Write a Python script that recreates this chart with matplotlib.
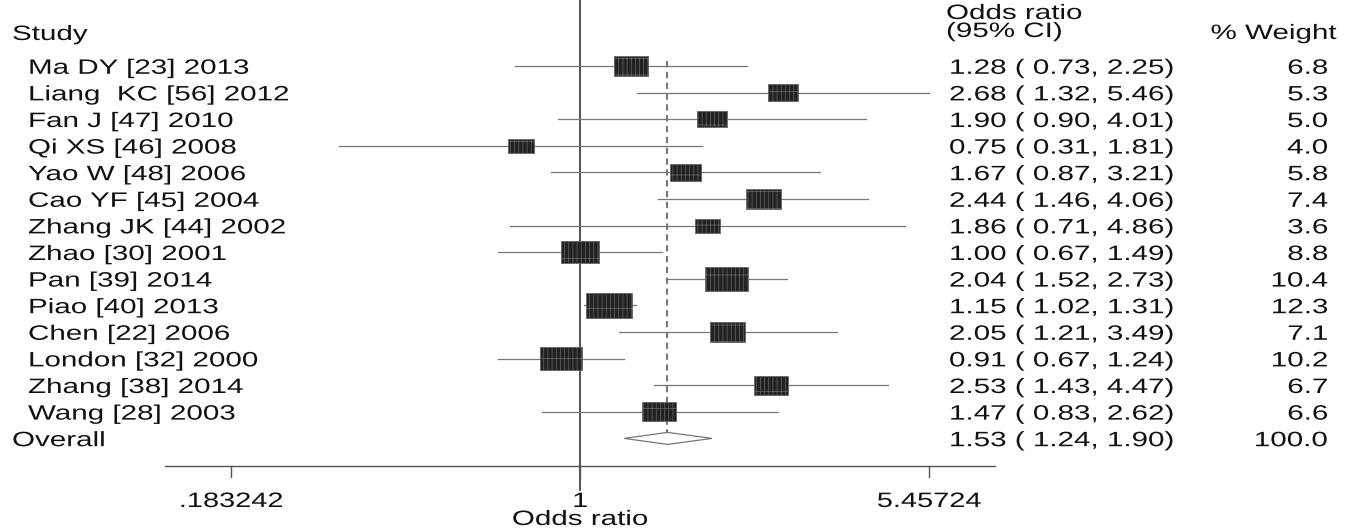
import numpy as np
import matplotlib
matplotlib.use("Agg")
import matplotlib.pyplot as plt
from matplotlib import patheffects
from matplotlib.patches import Rectangle, Polygon
from matplotlib.transforms import Affine2D

studies = ["Ma DY [23] 2013", "Liang  KC [56] 2012", "Fan J [47] 2010",
           "Qi XS [46] 2008", "Yao W [48] 2006", "Cao YF [45] 2004",
           "Zhang JK [44] 2002", "Zhao [30] 2001", "Pan [39] 2014",
           "Piao [40] 2013", "Chen [22] 2006", "London [32] 2000",
           "Zhang [38] 2014", "Wang [28] 2003"]
or_est = [1.28, 2.68, 1.90, 0.75, 1.67, 2.44, 1.86, 1.00, 2.04, 1.15, 2.05, 0.91, 2.53, 1.47]
ci_lo = [0.73, 1.32, 0.90, 0.31, 0.87, 1.46, 0.71, 0.67, 1.52, 1.02, 1.21, 0.67, 1.43, 0.83]
ci_hi = [2.25, 5.46, 4.01, 1.81, 3.21, 4.06, 4.86, 1.49, 2.73, 1.31, 3.49, 1.24, 4.47, 2.62]
weights = [6.8, 5.3, 5.0, 4.0, 5.8, 7.4, 3.6, 8.8, 10.4, 12.3, 7.1, 10.2, 6.7, 6.6]
overall_est, overall_lo, overall_hi, overall_w = 1.53, 1.24, 1.90, 100.0
tick_vals = [0.183242, 1, 5.45724]
tick_labels = [".183242", "1", "5.45724"]

W, H = 1353, 529
S = 205.7          # pixels per ln unit
X1 = 580           # pixel of OR = 1
FS = 15            # font size (pt)
SX = 1.42          # horizontal text stretch, the source image is stretched
TXT = "#111111"

plt.rcParams['font.family'] = ['Liberation Sans', 'DejaVu Sans']
plt.rcParams['hatch.linewidth'] = 0.5


class Stretch(patheffects.AbstractPathEffect):
    def __init__(self, sx, pivot="left"):
        super().__init__()
        self.sx = sx
        self.pivot = pivot

    def draw_path(self, renderer, gc, tpath, affine, rgbFace=None):
        v = tpath.vertices
        x0 = 0.0
        if len(v):
            if self.pivot == "right":
                x0 = v[:, 0].max()
            elif self.pivot == "center":
                x0 = (v[:, 0].min() + v[:, 0].max()) / 2
        t = Affine2D().translate(-x0, 0).scale(self.sx, 1).translate(x0, 0) + affine
        renderer.draw_path(gc, tpath, t, rgbFace)


def put(axis, x, y, s, ha="left", sx=SX):
    axis.text(x, y, s, ha=ha, va="baseline", fontsize=FS, color=TXT,
              path_effects=[Stretch(sx, ha)])


fig = plt.figure(figsize=(W / 100, H / 100), dpi=100)
ax = fig.add_axes([0, 0, 1, 1])
ax.set_xscale("log")
ax.set_xlim(np.exp(-X1 / S), np.exp((W - X1) / S))
ax.set_ylim(H, 0)
ax.axis("off")

tx = fig.add_axes([0, 0, 1, 1])
tx.set_xlim(0, W)
tx.set_ylim(H, 0)
tx.patch.set_facecolor("none")
tx.axis("off")

n = len(studies)
rows = 66 + 26.6 * np.arange(n)
y_over = 66 + 26.6 * n
base = 7.8

# null line and overall dashed line
ax.plot([1, 1], [0, 490], color="#333333", lw=1.2, zorder=1)
ax.plot([overall_est, overall_est], [61, y_over + 6], color="#777777", lw=1.5,
        ls=(0, (3, 2.2)), zorder=1)

# studies
for i in range(n):
    y = rows[i]
    ax.plot([ci_lo[i], ci_hi[i]], [y, y], color="#777777", lw=0.9, zorder=2)
    h = 7.3 * np.sqrt(weights[i])
    hw = 1.8 * h / 2 / S
    x0 = or_est[i] * np.exp(-hw)
    x1 = or_est[i] * np.exp(hw)
    ax.add_patch(Rectangle((x0, y - h / 2), x1 - x0, h, facecolor="#222222",
                           edgecolor="#666666", lw=0.6, hatch="|||+", zorder=3))
    put(tx, 28, y + base, studies[i])
    put(tx, 949, y + base, "%.2f ( %.2f, %.2f)" % (or_est[i], ci_lo[i], ci_hi[i]))
    put(tx, 1328, y + base, "%.1f" % weights[i], ha="right")

# overall diamond
ax.add_patch(Polygon([(overall_lo, y_over), (overall_est, y_over - 6),
                      (overall_hi, y_over), (overall_est, y_over + 6)],
                     closed=True, facecolor="white", edgecolor="#777777",
                     lw=0.9, zorder=3))
put(tx, 12, y_over + base, "Overall")
put(tx, 949, y_over + base, "%.2f ( %.2f, %.2f)" % (overall_est, overall_lo, overall_hi))
put(tx, 1328, y_over + base, "%.1f" % overall_w, ha="right")

# headers
put(tx, 12, 40, "Study")
put(tx, 946, 19, "Odds ratio")
put(tx, 946, 37, "(95% CI)")
put(tx, 1337, 39, "% Weight", ha="right")

# x axis
lim = np.exp(2.0175)
ax.plot([1 / lim, lim], [466, 466], color="#555555", lw=1.0, zorder=1)
for v, lab in zip(tick_vals, tick_labels):
    ax.plot([v, v], [466, 477], color="#555555", lw=1.0, zorder=1)
    put(ax, v, 507, lab, ha="center", sx=1.39)
put(ax, 1, 525, "Odds ratio", ha="center")

fig.savefig("out.png", dpi=100)
